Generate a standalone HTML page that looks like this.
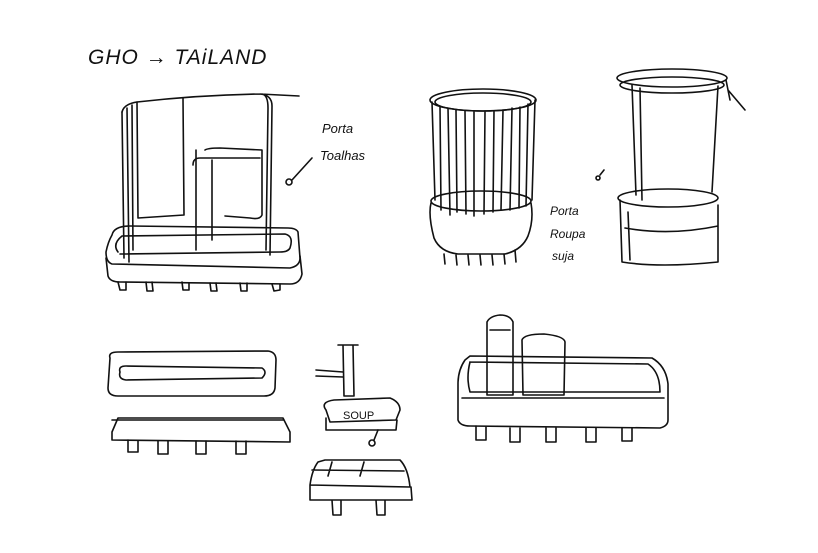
<!DOCTYPE html>
<html><head><meta charset="utf-8"><style>
html,body{margin:0;padding:0;background:#fff;}
svg{display:block}
text{font-family:"Liberation Sans",sans-serif;fill:#111}
</style></head><body>
<svg width="818" height="553" viewBox="0 0 818 553" xmlns="http://www.w3.org/2000/svg">
<text x="88" y="64" font-size="21" font-style="italic" letter-spacing="1">GHO → TAiLAND</text>
<g fill="none" stroke="#111" stroke-width="1.6" stroke-linecap="round" stroke-linejoin="round">
<!-- towel holder -->
<path d="M122 112 L124 258 M127 108 L129 262 M132 105 L133 250"/>
<path d="M122 112 Q124 104 137 102 Q200 95 260 94 Q272 95 272 106 L270 255 M262 94 Q268 95 268 108 L266 250 M260 94 L299 96"/>
<path d="M137 102 L138 218 L184 215 L183 98"/>
<path d="M196 150 L196 250 M193 165 Q193 158 200 158 L260 158 M205 150 Q208 148 220 148 L262 150 L262 215 Q260 220 250 218 L225 216 M212 160 L212 240"/>
<path d="M112 235 Q108 242 106 252 Q106 262 112 264 L290 268 Q300 266 300 258 L298 232 Q296 228 288 228 L130 226 Q114 226 112 235 Z M118 252 Q112 244 122 236 L285 234 Q294 236 290 248 Q288 252 280 252 L120 254"/>
<path d="M106 258 L108 276 Q110 282 120 282 L290 284 Q300 284 302 274 L300 256"/>
<path d="M118 282 L120 290 L126 290 L126 282 M146 282 L147 291 L153 291 L152 282 M182 282 L183 290 L189 290 L189 283 M210 283 L211 291 L217 291 L216 283 M240 283 L241 291 L247 291 L247 283 M272 284 L274 291 L280 290 L280 284"/>
<circle cx="289" cy="182" r="3"/>
<path d="M292 180 L312 158"/>
<!-- laundry basket -->
<ellipse cx="483" cy="100" rx="53" ry="11"/>
<ellipse cx="483" cy="102" rx="48" ry="9"/>
<path d="M432 102 L435 200 M440 106 L441 210 M448 108 L450 215 M456 110 L457 212 M465 111 L466 214 M474 112 L474 216 M485 112 L484 214 M494 111 L493 212 M503 110 L501 210 M512 108 L510 210 M520 107 L519 208 M528 104 L526 206 M535 100 L532 200"/>
<ellipse cx="481" cy="201" rx="50" ry="10"/>
<path d="M431 203 Q428 215 434 238 Q440 252 458 254 L505 254 Q522 250 528 236 Q534 220 531 203"/>
<path d="M444 254 L445 264 M456 255 L457 265 M468 255 L469 265 M480 255 L481 265 M492 255 L493 265 M504 254 L505 264 M515 250 L516 262"/>
<circle cx="598" cy="178" r="2"/><path d="M600 175 L604 170"/>
<!-- right hamper -->
<ellipse cx="672" cy="78" rx="55" ry="9"/>
<ellipse cx="672" cy="85" rx="52" ry="8"/>
<path d="M632 85 L636 195 M640 88 L642 200 M718 86 L712 192 M726 80 L730 100 M728 90 L745 110"/>
<ellipse cx="668" cy="198" rx="50" ry="9"/>
<path d="M620 200 L622 262 Q660 268 718 262 L718 205 M625 228 Q670 236 718 226 M628 212 L630 260"/>
<!-- bottom left tray -->
<path d="M110 358 Q108 352 118 352 L268 351 Q276 352 276 360 L275 388 Q274 396 264 396 L118 396 Q108 396 108 388 Z M120 372 Q118 366 126 366 L262 368 Q268 372 262 378 L126 380 Q118 379 120 372"/>
<path d="M118 418 L112 432 L112 440 L290 442 L290 432 L283 418 Z M112 420 L283 420"/>
<path d="M128 440 L128 452 L138 452 L138 441 M158 441 L158 454 L168 454 L168 441 M196 441 L196 454 L206 454 L206 441 M236 441 L236 454 L246 454 L246 441"/>
<!-- soap -->
<path d="M343 345 L344 396 L354 396 L353 345 M338 345 L358 345 M316 370 L343 372 M316 376 L343 377"/>
<path d="M326 410 Q320 402 334 400 L390 398 Q400 402 400 410 L396 420 L330 422 Z M326 418 L326 430 L396 430 L397 420"/>
<circle cx="372" cy="443" r="3"/><path d="M374 440 L378 430"/>
<path d="M318 462 Q312 470 310 485 L410 487 Q408 468 400 460 L325 460 Z M312 470 L404 471 M310 485 L310 500 L412 500 L411 487 M328 476 L332 462 M360 476 L364 462 M332 500 L333 515 L341 515 L341 500 M376 500 L377 515 L385 515 L385 500"/>
<!-- bottom right tray -->
<path d="M465 360 Q458 370 458 384 L458 420 Q460 426 470 426 L660 428 Q668 426 668 420 L668 384 Q666 366 652 358 L470 356 Z M470 362 L648 364 Q660 372 660 392 L470 392 Q466 378 470 362 M462 398 L664 398"/>
<path d="M487 322 L487 395 L513 395 L513 322 Q510 315 500 315 Q490 316 487 322 M490 330 L510 330"/>
<path d="M522 340 Q524 334 544 334 Q564 336 565 342 L564 395 L523 395 Z"/>
<path d="M476 426 L476 440 L486 440 L486 427 M510 428 L510 442 L520 442 L520 428 M546 428 L546 442 L556 442 L556 428 M586 428 L586 442 L596 442 L596 428 M622 428 L622 441 L632 441 L632 428"/>
</g>
<text x="322" y="133" font-size="13" font-style="italic">Porta</text>
<text x="320" y="160" font-size="13" font-style="italic">Toalhas</text>
<text x="550" y="215" font-size="12" font-style="italic">Porta</text>
<text x="550" y="238" font-size="12" font-style="italic">Roupa</text>
<text x="552" y="260" font-size="12" font-style="italic">suja</text>
<text x="343" y="419" font-size="11">SOUP</text>
</svg>
</body></html>
